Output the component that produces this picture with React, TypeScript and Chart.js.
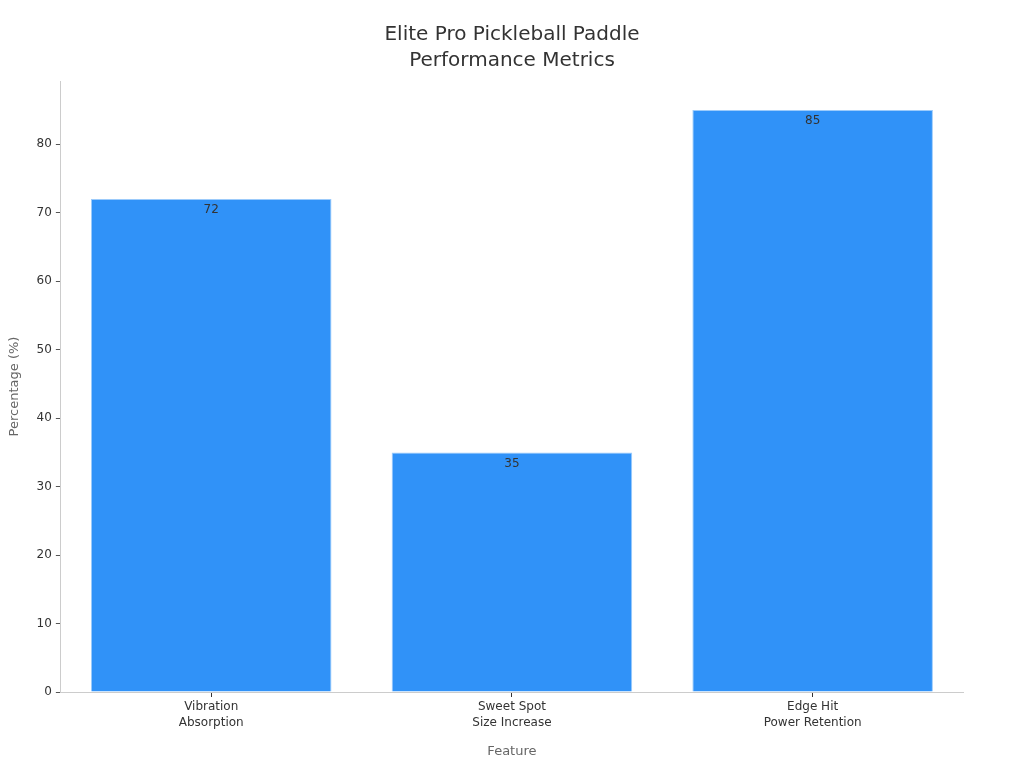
import React, { useEffect, useRef } from "react";
import { Chart, registerables } from "chart.js";

Chart.register(...registerables);

const categories: string[][] = [["Vibration", "Absorption"], ["Sweet Spot", "Size Increase"], ["Edge Hit", "Power Retention"]];
const values: number[] = [72, 35, 85];
const titleLines: string[] = ["Elite Pro Pickleball Paddle", "Performance Metrics"];
const yTitle = "Percentage (%)";
const xTitle = "Feature";
const yMax = 89.25;

const FONT = "'DejaVu Sans', sans-serif";

const valueLabels = {
  id: "valueLabels",
  afterDatasetsDraw(chart: any) {
    const ctx = chart.ctx;
    const meta = chart.getDatasetMeta(0);
    ctx.save();
    ctx.font = `12px ${FONT}`;
    ctx.fillStyle = "#333333";
    ctx.textAlign = "center";
    ctx.textBaseline = "middle";
    meta.data.forEach((bar: any, i: number) => {
      ctx.fillText(String(values[i]), bar.x, bar.y + 11);
    });
    ctx.restore();
  },
};

const centeredTitle = {
  id: "centeredTitle",
  afterDraw(chart: any) {
    const ctx = chart.ctx;
    ctx.save();
    ctx.font = `20px ${FONT}`;
    ctx.fillStyle = "#333333";
    ctx.textAlign = "center";
    ctx.textBaseline = "middle";
    titleLines.forEach((line, i) => {
      ctx.fillText(line, chart.width / 2, 35 + i * 26);
    });
    ctx.restore();
  },
};

export default function App() {
  const ref = useRef<HTMLCanvasElement>(null);
  useEffect(() => {
    document.body.style.margin = "0";
    const chart = new Chart(ref.current!, {
      type: "bar",
      data: {
        labels: categories,
        datasets: [
          {
            data: values,
            backgroundColor: "#3092f8",
            borderColor: "#9ccbfb",
            borderWidth: 1,
            barPercentage: 0.8,
            categoryPercentage: 1,
          },
        ],
      },
      options: {
        animation: false,
        responsive: false,
        layout: { padding: { top: 81, right: 61, bottom: 5, left: 7 } },
        plugins: {
          legend: { display: false },
          tooltip: { enabled: false },
          title: { display: false },
        },
        scales: {
          x: {
            grid: { display: true, offset: false, drawOnChartArea: false, drawTicks: true, tickLength: 5, color: "#333333" },
            border: { display: true, color: "#cccccc" },
            ticks: { color: "#333333", font: { family: FONT, size: 12, lineHeight: 1.35 }, padding: 2 },
            title: { display: true, text: xTitle, color: "#666666", font: { family: FONT, size: 13 }, padding: { top: 10, bottom: 4 } },
          },
          y: {
            min: 0,
            max: yMax,
            afterBuildTicks: (scale: any) => {
              scale.ticks = scale.ticks.filter((t: any) => t.value % 10 === 0);
            },
            grid: { display: true, drawOnChartArea: false, drawTicks: true, tickLength: 5, color: "#555555" },
            border: { display: true, color: "#cccccc" },
            ticks: { stepSize: 10, color: "#333333", font: { family: FONT, size: 12 }, padding: 4 },
            title: { display: true, text: yTitle, color: "#666666", font: { family: FONT, size: 13 }, padding: { top: 0, bottom: 10 } },
          },
        },
      },
      plugins: [valueLabels, centeredTitle],
    });
    return () => chart.destroy();
  }, []);
  return (
    <div style={{ width: 1024, height: 768 }}>
      <canvas ref={ref} width={1024} height={768} style={{ display: "block" }} />
    </div>
  );
}
